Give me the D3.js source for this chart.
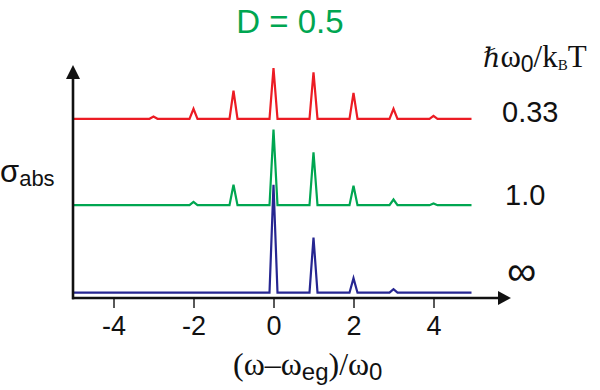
<!DOCTYPE html>
<html><head><meta charset="utf-8">
<script src="https://cdn.jsdelivr.net/npm/d3@7/dist/d3.min.js"></script>
<style>
html,body{margin:0;padding:0;background:#fff;}
svg{display:block;}
</style></head>
<body>
<script>
// ---- data ----
const orders = [-4, -3, -2, -1, 0, 1, 2, 3, 4];
const redPeaks   = [0, 0.021, 0.093, 0.26, 0.47, 0.43, 0.24, 0.093, 0.028];
const greenPeaks = [0, 0, 0.03, 0.19, 0.70, 0.49, 0.18, 0.053, 0.016];
const bluePeaks  = [0, 0, 0, 0, 1.0, 0.51, 0.134, 0.032, 0];
const seriesNames = ["0.33", "1.0", "\u221E"];
const seriesOffsets = [1.61, 0.81, 0];
const seriesColors = ["#ec1c24", "#00a651", "#262691"];
const xTicks = [-4, -2, 0, 2, 4];
const titleText = "D = 0.5";

const W = 600, H = 390;
const sans = "'Liberation Sans',Arial,sans-serif";
const serif = "'Liberation Serif','Times New Roman',serif";
const svg = d3.select("body").append("svg").attr("width", W).attr("height", H)
  .attr("font-family", sans);

const x = d3.scaleLinear().domain([-5, 5]).range([73.5, 473.5]);
const y = d3.scaleLinear().domain([0, 1]).range([292.7, 184.7]);

const halfWidth = 0.1;
const allPeaks = [redPeaks, greenPeaks, bluePeaks];

function buildPoints(peaks, offset) {
  const pts = [[-5, offset]];
  orders.forEach((n, i) => {
    const h = peaks[i];
    if (h > 0) {
      pts.push([n - halfWidth, offset]);
      pts.push([n, offset + h]);
      pts.push([n + halfWidth, offset]);
    }
  });
  pts.push([4.95, offset]);
  return pts;
}

const line = d3.line().x(d => x(d[0])).y(d => y(d[1]));

allPeaks.forEach((p, i) => {
  svg.append("path")
    .attr("d", line(buildPoints(p, seriesOffsets[i])))
    .attr("fill", "none")
    .attr("stroke", seriesColors[i])
    .attr("stroke-width", 2.2)
    .attr("stroke-linejoin", "miter");
});

// axes
const axisY = 298;
const xAxis = d3.axisBottom(x).tickValues(xTicks).tickFormat(d => String(d)).tickSize(10).tickPadding(8);
const gx = svg.append("g").attr("transform", `translate(0,${axisY})`).call(xAxis);
gx.attr("font-family", sans).attr("font-size", 27);
gx.select(".domain").remove();
gx.selectAll(".tick line").attr("stroke", "#222").attr("stroke-width", 1.5);
gx.selectAll(".tick text").attr("fill", "#111");

// x axis line + arrow
svg.append("line").attr("x1", 72).attr("x2", 498).attr("y1", axisY).attr("y2", axisY)
  .attr("stroke", "#111").attr("stroke-width", 2.6);
svg.append("path").attr("d", `M498,${axisY-7}L511,${axisY}L498,${axisY+7}Z`).attr("fill", "#111");
// y axis line + arrow
svg.append("line").attr("x1", 73).attr("x2", 73).attr("y1", axisY + 1.3).attr("y2", 78)
  .attr("stroke", "#111").attr("stroke-width", 2.6);
svg.append("path").attr("d", `M66,79L73,65L80,79Z`).attr("fill", "#111");

// title
svg.append("text").attr("x", 290).attr("y", 33).attr("text-anchor", "middle")
  .attr("font-size", 33).attr("fill", "#00a651").text(titleText);

// right header
const hdr = svg.append("text").attr("x", 483).attr("y", 67)
  .attr("font-family", serif).attr("font-size", 31).attr("fill", "#111");
hdr.append("tspan").attr("font-family", "'DejaVu Serif',serif").attr("font-size", 27).text("\u210F");
hdr.append("tspan").text("\u03C9");
hdr.append("tspan").attr("dy", 5).attr("font-size", 23).attr("font-family", sans).text("0");
hdr.append("tspan").attr("dy", -5).text("/k");
hdr.append("tspan").attr("dy", 3).attr("font-size", 15).text("B");
hdr.append("tspan").attr("dy", -3).text("T");

// series labels
const labelY = [122, 205, 285];
const labelX = [502, 505, 507];
const labelSize = [29, 29, 41];
seriesNames.forEach((s, i) => {
  svg.append("text").attr("x", labelX[i]).attr("y", labelY[i])
    .attr("font-size", labelSize[i]).attr("fill", "#111").text(s);
});

// y label
const yl = svg.append("text").attr("x", 0).attr("y", 182).attr("fill", "#111");
yl.append("tspan").attr("font-size", 31).text("\u03C3");
yl.append("tspan").attr("dy", 4).attr("font-size", 22).text("abs");

// x label
const xl = svg.append("text").attr("x", 233).attr("y", 375).attr("fill", "#111").attr("font-size", 32);
xl.append("tspan").attr("font-family", serif).text("(\u03C9\u2013\u03C9");
xl.append("tspan").attr("dy", 5).attr("font-size", 24).text("eg");
xl.append("tspan").attr("dy", -5).attr("font-family", serif).text(")/\u03C9");
xl.append("tspan").attr("dy", 5).attr("font-size", 24).text("0");
</script>
</body></html>
